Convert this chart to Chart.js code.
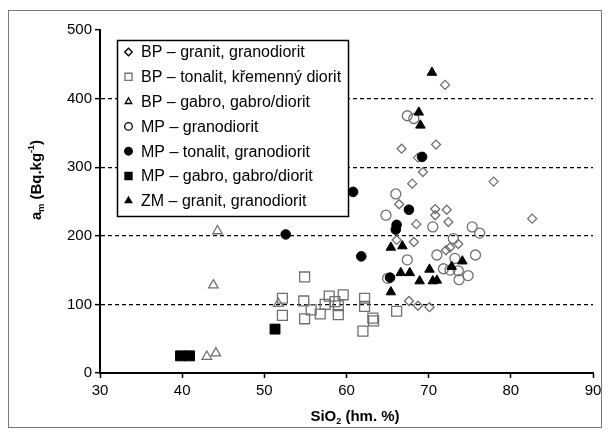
<!DOCTYPE html>
<html>
<head>
<meta charset="utf-8">
<script src="https://cdn.jsdelivr.net/npm/chart.js@4.4.0/dist/chart.umd.min.js"></script>
<style>
html, body { margin: 0; padding: 0; background: #fff; }
#wrap { position: relative; width: 608px; height: 435px; }
#frame { position: absolute; left: 8px; top: 10px; width: 592px; height: 416px; border: 1px solid #777; pointer-events: none; }
</style>
</head>
<body>
<div id="wrap">
  <canvas id="chart" width="608" height="435"></canvas>
  <div id="frame"></div>
</div>
<script>
// series labels
const seriesLabels = [
    'BP – granit, granodiorit',
    'BP – tonalit, křemenný diorit',
    'BP – gabro, gabro/diorit',
    'MP – granodiorit',
    'MP – tonalit, granodiorit',
    'MP – gabro, gabro/diorit',
    'ZM – granit, granodiorit'
];

// [SiO2 %, a_m] pairs
const bpGranit = [[72.0, 420], [66.7, 327], [70.9, 333], [68.7, 314], [69.3, 293], [68.0, 276], [77.9, 279],
    [66.4, 246], [70.8, 239], [72.2, 238], [70.8, 230], [68.5, 217], [72.4, 220], [82.6, 225], [66.1, 194],
    [68.2, 191], [73.6, 188], [72.6, 183], [72.1, 179], [67.6, 105], [68.7, 98], [70.1, 96]];
const bpTonalit = [[54.9, 140], [52.2, 109], [52.2, 84], [54.8, 105], [54.9, 79], [55.7, 92], [56.8, 86],
    [57.4, 100], [57.9, 112], [58.6, 104], [59.0, 98], [59.0, 85], [59.6, 114], [62.2, 109], [62.2, 97],
    [63.2, 80], [63.3, 76], [62.0, 61], [66.1, 90]];
const bpGabro = [[44.3, 207], [43.8, 128], [51.7, 101], [43.0, 24], [44.1, 29]];
const mpGranodiorit = [[67.4, 375], [68.2, 371], [66.0, 261], [64.8, 230], [70.5, 213], [75.3, 213], [76.2, 204],
    [73.0, 196], [67.4, 165], [71.0, 172], [73.2, 167], [75.7, 172], [71.8, 152], [72.6, 150], [73.6, 149],
    [73.7, 136], [74.8, 142], [65.0, 138]];
const mpTonalit = [[69.2, 315], [60.8, 264], [67.6, 238], [66.1, 216], [66.0, 209], [61.8, 170], [52.6, 202], [65.3, 139]];
const mpGabro = [[39.8, 25], [40.9, 25], [51.3, 64]];
const zmGranit = [[70.4, 438], [68.8, 380], [69.0, 361], [65.4, 183], [66.8, 185], [66.6, 146], [67.7, 146],
    [70.1, 151], [72.8, 155], [74.1, 163], [68.9, 134], [70.5, 134], [71.0, 135], [65.4, 118]];

const xTicks = [30, 40, 50, 60, 70, 80, 90];
const yTicks = [0, 100, 200, 300, 400, 500];

const toXY = arr => arr.map(p => ({ x: p[0], y: p[1] }));

const gray = '#707070';
const styles = [
    { data: bpGranit, pointStyle: 'rectRot', radius: 4.5, open: true },
    { data: bpTonalit, pointStyle: 'rect', radius: 7, open: true },
    { data: bpGabro, pointStyle: 'triangle', radius: 5.5, open: true },
    { data: mpGranodiorit, pointStyle: 'circle', radius: 5, open: true },
    { data: mpTonalit, pointStyle: 'circle', radius: 4.8, open: false },
    { data: mpGabro, pointStyle: 'rect', radius: 7, open: false },
    { data: zmGranit, pointStyle: 'triangle', radius: 5.5, open: false }
];

const datasets = styles.map((s, i) => ({
    label: seriesLabels[i],
    data: toXY(s.data),
    pointStyle: s.pointStyle,
    pointRadius: s.radius,
    pointHoverRadius: s.radius,
    pointBorderWidth: s.open ? 1.3 : 1,
    borderColor: s.open ? gray : '#000',
    backgroundColor: s.open ? 'rgba(0,0,0,0)' : '#000',
    order: s.open ? 1 : 0
}));

// axis titles with sub/superscripts
const axisTitles = {
    id: 'axisTitles',
    afterDraw(chart) {
        const ctx = chart.ctx;
        ctx.save();
        ctx.fillStyle = '#000';
        ctx.textBaseline = 'alphabetic';
        const big = "bold 15px 'Liberation Sans', Arial, sans-serif";
        const small = "bold 9px 'Liberation Sans', Arial, sans-serif";

        function drawParts(parts, cx, cy) {
            let w = 0;
            parts.forEach(p => { ctx.font = p.small ? small : big; w += ctx.measureText(p.t).width; });
            let x = cx - w / 2;
            parts.forEach(p => {
                ctx.font = p.small ? small : big;
                ctx.fillText(p.t, x, cy + (p.dy || 0));
                x += ctx.measureText(p.t).width;
            });
        }

        drawParts([{ t: 'SiO' }, { t: '2', small: true, dy: 3 }, { t: ' (hm. %)' }], 355, 421);

        ctx.translate(41, 180);
        ctx.rotate(-Math.PI / 2);
        drawParts([{ t: 'a' }, { t: 'm', small: true, dy: 3 }, { t: ' (Bq.kg' }, { t: '-1', small: true, dy: -7 }, { t: ')' }], 0, 0);
        ctx.restore();
    }
};

// legend box inside the plot
const boxLegend = {
    id: 'boxLegend',
    afterDraw(chart) {
        const ctx = chart.ctx;
        const left = 117, top = 40, w = 231, h = 176;
        ctx.save();
        ctx.fillStyle = '#fff';
        ctx.fillRect(left, top, w, h);
        ctx.strokeStyle = '#000';
        ctx.lineWidth = 1.5;
        ctx.strokeRect(left + 0.5, top + 0.5, w, h);
        ctx.font = "16px 'Liberation Sans', Arial, sans-serif";
        ctx.textBaseline = 'middle';
        chart.data.datasets.forEach((ds, i) => {
            const y = 52 + i * 24.8;
            ctx.fillStyle = ds.backgroundColor;
            ctx.strokeStyle = ds.pointStyle === 'rect' || ds.backgroundColor === '#000' ? ds.borderColor : '#000';
            ctx.lineWidth = 1.3;
            Chart.helpers.drawPoint(ctx, {
                pointStyle: ds.pointStyle,
                radius: ds.pointStyle === 'rect' ? 5 : 3.8,
                borderWidth: 1.3,
                rotation: 0
            }, 128.5, y);
            ctx.fillStyle = '#000';
            ctx.fillText(ds.label, 141, y + 1);
        });
        ctx.restore();
    }
};

Chart.defaults.font.family = "'Liberation Sans', Arial, sans-serif";
Chart.defaults.font.size = 15;
Chart.defaults.color = '#000';

new Chart(document.getElementById('chart'), {
    type: 'scatter',
    data: { datasets: datasets },
    options: {
        responsive: false,
        animation: false,
        layout: { padding: { top: 30, right: 15, left: 0, bottom: 0 } },
        plugins: { legend: { display: false }, tooltip: { enabled: false } },
        scales: {
            x: {
                type: 'linear',
                min: xTicks[0],
                max: xTicks[xTicks.length - 1],
                afterBuildTicks: scale => { scale.ticks = xTicks.map(v => ({ value: v })); },
                afterFit: scale => { scale.height = 62; },
                ticks: { color: '#000', padding: 4 },
                grid: { drawOnChartArea: false, tickLength: 5, tickColor: '#000', tickWidth: 1.5 },
                border: { color: '#000', width: 2 }
            },
            y: {
                min: yTicks[0],
                max: yTicks[yTicks.length - 1],
                afterBuildTicks: scale => { scale.ticks = yTicks.map(v => ({ value: v })); },
                afterFit: scale => { scale.width = 100; },
                ticks: { color: '#000', padding: 3 },
                grid: {
                    color: c => (c.tick && (c.tick.value === 0 || c.tick.value === 500)) ? 'rgba(0,0,0,0)' : '#000',
                    lineWidth: 1.3,
                    tickLength: 5,
                    tickColor: '#000',
                    tickWidth: 1.5
                },
                border: { color: '#000', width: 2, dash: [4, 3] }
            }
        }
    },
    plugins: [axisTitles, boxLegend]
});
</script>
</body>
</html>
